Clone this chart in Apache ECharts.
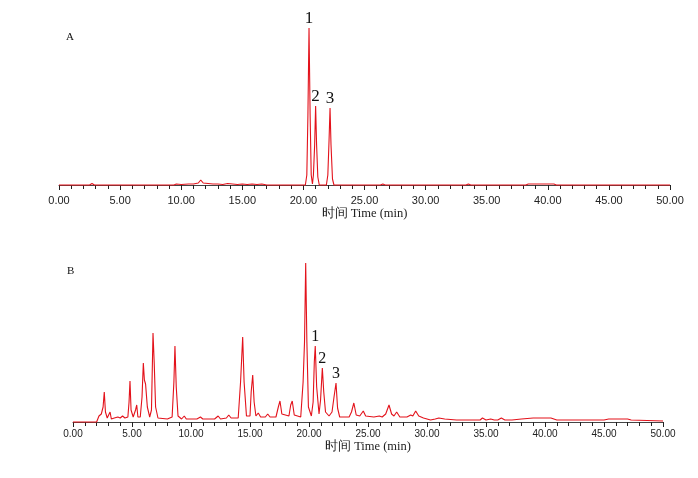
<!DOCTYPE html>
<html>
<head>
<meta charset="utf-8">
<script src="https://cdn.jsdelivr.net/npm/echarts@6/dist/echarts.min.js"></script>
<style>html,body{margin:0;padding:0;background:#fff;}#c{width:698px;height:478px;}</style>
</head>
<body>
<div id="c"></div>
<script>
// Panel A (standard mixture) – retention time (min) and detector signal
var timeA   = [0,2.5,2.7,2.9,9.4,9.6,10.0,10.6,11.0,11.4,11.6,11.8,12.2,12.6,13.0,13.4,13.8,14.2,14.6,15.0,15.4,15.8,16.2,16.6,17.0,17.9,18.0,18.2,
               20.16,20.28,20.37,20.46,20.55,20.64,20.74,20.82,20.92,21.0,21.08,21.18,21.3,21.88,22.0,22.1,22.18,22.26,22.38,22.5,
               26.3,26.5,26.7,33.3,33.5,33.7,38.2,38.4,40.5,40.7,50];
var signalA = [0,0,1.5,0,0,1,0.5,1,1,2,5,2,1.5,1,1,0.5,1.5,1,0.5,1,0.5,1,0.5,1,0,0,1,0,
               0,10,70,157,70,10,1,10,40,79,40,8,0,0,10,45,77,40,6,0,
               0,1,0,0,1,0,0,1,1,0,0];

// Panel B (sample) – retention time (min) and detector signal
var timeB   = [0,2.0,2.2,2.4,2.55,2.65,2.75,2.9,3.05,3.14,3.25,3.5,3.8,4.0,4.2,4.4,4.65,4.75,4.83,4.92,5.1,5.3,5.4,5.5,5.7,5.85,5.96,6.05,6.15,6.3,6.5,6.65,6.78,6.88,7.0,7.2,
               8.0,8.4,8.55,8.64,8.75,8.9,9.2,9.43,9.6,10.5,10.8,11.0,12.0,12.3,12.5,13.0,13.2,13.4,14.0,14.2,14.38,14.5,14.7,15.0,15.1,15.23,15.35,15.5,15.7,15.9,16.3,16.5,16.7,
               17.2,17.4,17.54,17.7,18.3,18.45,18.58,18.75,19.3,19.5,19.62,19.72,19.82,19.95,20.2,20.35,20.45,20.53,20.65,20.85,20.98,21.13,21.25,21.4,21.7,21.95,22.12,22.29,22.42,22.6,
               23.4,23.6,23.8,24.0,24.3,24.6,24.8,25.5,25.96,26.2,26.5,26.78,27.0,27.2,27.43,27.7,28.3,28.62,28.8,29.04,29.3,29.7,30.3,30.7,31.0,31.5,32.5,34.5,34.7,35.0,35.4,35.7,36.0,36.3,36.6,37.2,38.0,39.0,40.5,41.0,45.0,45.4,47.0,47.3,50];
var signalB = [0,0,6,8,15,30,10,4,6,10,3,4,5,4,6,4,5,20,41,12,5,12,17,5,5,25,59,42,38,15,5,12,89,60,15,4,
               3,5,40,76,35,6,3,6,3,3,5,3,3,6,3,4,7,4,4,40,85,40,6,6,30,47,20,6,9,5,5,8,5,
               5,15,21,8,6,17,21,7,5,40,80,159,80,15,6,20,60,76,35,8,22,54,30,10,6,10,25,39,14,5,
               5,10,19,7,6,11,6,5,6,5,8,17,8,6,10,5,5,7,6,11,6,4,2,3,4,3,2,2,4,2,3,2,2,4,2,2,3,4,4,2,2,3,3,2,1];

// Peak annotations
var peakNames  = ['1','2','3'];
var peakTimesA = [20.46,21.0,22.18];
var peakValsA  = [157,79,77];
var peakTimesB = [20.53,21.13,22.29];
var peakValsB  = [76,54,39];

// Axis
var xMin = 0, xMax = 50, xStep = 5;
var axisTitle = '时间 Time (min)';
var panelNames = ['A','B'];

function pairs(t, v){ return t.map(function(x,i){ return [x, v[i]]; }); }
function marks(t, v){ return t.map(function(x,i){ return {coord:[x, v[i]], value: peakNames[i]}; }); }

var red = '#e3121b';
var serif = '"Liberation Serif","Times New Roman",serif';

function xAxis(idx, fs, lblMargin, nameGap){
  return {
    gridIndex: idx, type:'value', min:xMin, max:xMax, interval:xStep,
    axisLine:{show:true, lineStyle:{color:'#444', width:1}},
    axisTick:{show:true, length:5, lineStyle:{color:'#222'}},
    minorTick:{show:true, splitNumber:5, length:4, lineStyle:{color:'#222'}},
    splitLine:{show:false},
    axisLabel:{fontFamily:'"Liberation Sans",Arial,sans-serif', fontSize:fs, color:'#222', margin:lblMargin,
               formatter:function(v){ return v.toFixed(2); }},
    name: axisTitle, nameLocation:'middle', nameGap:nameGap,
    nameTextStyle:{fontFamily:serif, fontSize:12.5, color:'#222'}
  };
}
function yAxis(idx){
  return {gridIndex:idx, type:'value', min:0, max:160, show:false};
}
function series(idx, data, mk, fs){
  return {
    type:'line', xAxisIndex:idx, yAxisIndex:idx, data:data, showSymbol:false, symbol:'none',
    lineStyle:{color:red, width:1.1}, animation:false, clip:false,
    markPoint:{symbol:'circle', symbolSize:0, data:mk, animation:false,
      label:{show:true, position:'top', distance:1, fontFamily:serif, fontSize:fs, color:'#111',
             formatter:function(p){ return p.value; }}}
  };
}

var chart = echarts.init(document.getElementById('c'), null, {renderer:'canvas'});
chart.setOption({
  animation:false,
  backgroundColor:'#fff',
  title:[
    {text:panelNames[0], left:61, top:27, textStyle:{fontFamily:serif, fontSize:11, fontWeight:'normal', color:'#111'}},
    {text:panelNames[1], left:62, top:261, textStyle:{fontFamily:serif, fontSize:11, fontWeight:'normal', color:'#111'}}
  ],
  grid:[
    {left:59, right:28, top:25, height:160},
    {left:73, right:35, top:262, height:160}
  ],
  xAxis:[xAxis(0, 11, 10, 22), xAxis(1, 10, 7, 18)],
  yAxis:[yAxis(0), yAxis(1)],
  series:[
    series(0, pairs(timeA, signalA), marks(peakTimesA, peakValsA), 17),
    series(1, pairs(timeB, signalB), marks(peakTimesB, peakValsB), 16)
  ]
});
</script>
</body>
</html>
